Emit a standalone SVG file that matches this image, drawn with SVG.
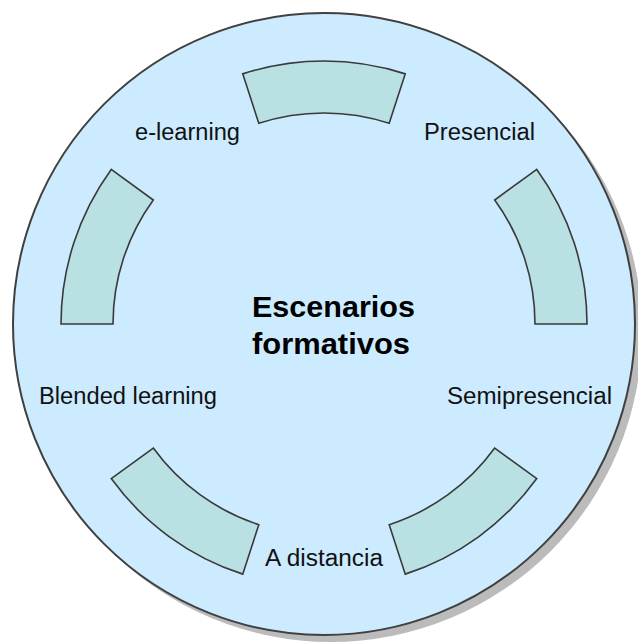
<svg xmlns="http://www.w3.org/2000/svg" width="638" height="644" viewBox="0 0 638 644">
  <style>
    .ring { fill: #CCEBFF; stroke: #404040; stroke-width: 2; }
    .shadow { fill: #BBBBBB; }
    .seg { fill: #B9E0E2; stroke: #3A3A3A; stroke-width: 1.6; stroke-linejoin: miter; }
    .lbl { font-family: "Liberation Sans", Arial, sans-serif; font-size: 23px; fill: #111111; text-anchor: middle; }
    .title { font-family: "Liberation Sans", Arial, sans-serif; font-size: 29px; font-weight: bold; fill: #000000; text-anchor: middle; }
  </style>
  <rect x="0" y="0" width="638" height="644" fill="#FFFFFF"/>
  <g id="escenarios-formativos">
    <circle class="shadow" cx="331" cy="331" r="311"/>
    <circle class="ring" cx="324" cy="324" r="311"/>
    <text class="title" x="333.5" y="317" textLength="163" lengthAdjust="spacingAndGlyphs">Escenarios</text>
    <text class="title" x="331" y="354" textLength="158" lengthAdjust="spacingAndGlyphs">formativos</text>
  </g>
  <g id="connectors"/>
  <g id="segment-top">
    <path class="seg" d="M242.73,73.87 A263,263 0 0 1 405.27,73.87 L389.20,123.33 A211,211 0 0 0 258.80,123.33 Z"/>
  </g>
  <g id="segment-right">
    <path class="seg" d="M536.77,169.41 A263,263 0 0 1 587,324 L535,324 A211,211 0 0 0 494.70,199.98 Z"/>
  </g>
  <g id="segment-bottom-right">
    <path class="seg" d="M536.77,478.59 A263,263 0 0 1 405.27,574.13 L389.20,524.67 A211,211 0 0 0 494.70,448.02 Z"/>
  </g>
  <g id="segment-bottom-left">
    <path class="seg" d="M242.73,574.13 A263,263 0 0 1 111.23,478.59 L153.30,448.02 A211,211 0 0 0 258.80,524.67 Z"/>
  </g>
  <g id="segment-left">
    <path class="seg" d="M61,324 A263,263 0 0 1 111.23,169.41 L153.30,199.98 A211,211 0 0 0 113,324 Z"/>
  </g>
  <g id="label-e-learning">
    <text class="lbl" x="187.5" y="140" textLength="105" lengthAdjust="spacingAndGlyphs">e-learning</text>
  </g>
  <g id="label-presencial">
    <text class="lbl" x="479.5" y="140" textLength="111" lengthAdjust="spacingAndGlyphs">Presencial</text>
  </g>
  <g id="label-blended-learning">
    <text class="lbl" x="128" y="404" textLength="178" lengthAdjust="spacingAndGlyphs">Blended learning</text>
  </g>
  <g id="label-semipresencial">
    <text class="lbl" x="529.5" y="404" textLength="165" lengthAdjust="spacingAndGlyphs">Semipresencial</text>
  </g>
  <g id="label-a-distancia">
    <text class="lbl" x="324" y="566" textLength="118" lengthAdjust="spacingAndGlyphs">A distancia</text>
  </g>
</svg>
